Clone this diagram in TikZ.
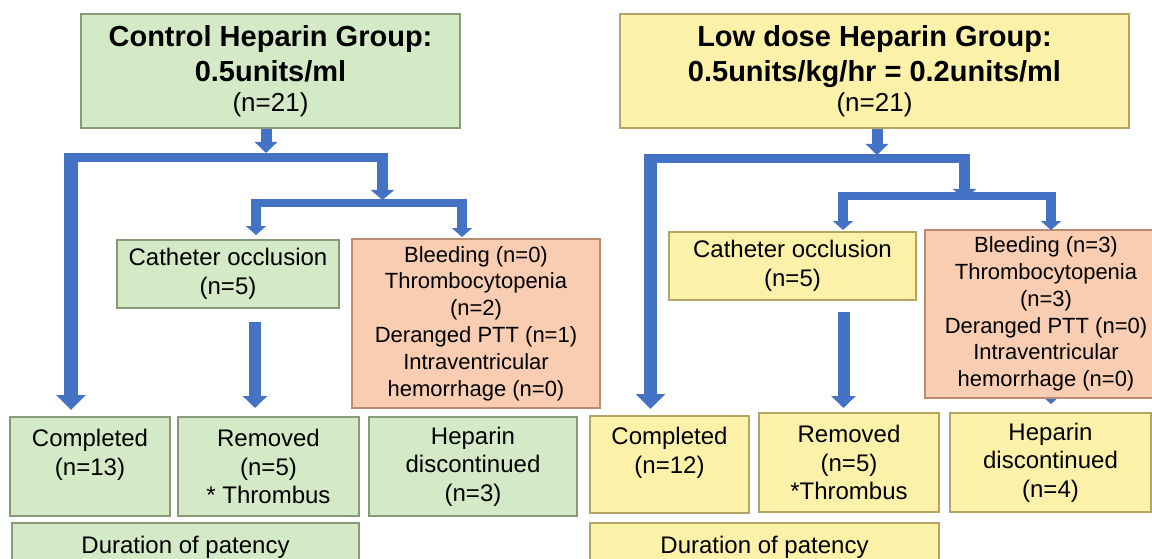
\documentclass[tikz,border=0pt]{standalone}
\usepackage{fontspec}
\setmainfont{Liberation Sans}
\usetikzlibrary{arrows.meta}
\definecolor{gfill}{RGB}{212,234,198}
\definecolor{gdraw}{RGB}{135,155,120}
\definecolor{yfill}{RGB}{252,241,168}
\definecolor{ydraw}{RGB}{180,165,100}
\definecolor{ofill}{RGB}{248,205,178}
\definecolor{odraw}{RGB}{185,140,115}
\definecolor{arrblue}{RGB}{68,114,196}
\tikzset{
  box/.style={draw, line width=1.3pt, inner sep=0pt, align=center,
    font=\fontsize{24}{28.5}\selectfont},
  gbox/.style={box, fill=gfill, draw=gdraw},
  ybox/.style={box, fill=yfill, draw=ydraw},
  obox/.style={box, fill=ofill, draw=odraw, font=\fontsize{22}{26.8}\selectfont},
  topbox/.style={font=\fontsize{29}{35}\selectfont},
  barline/.style={draw=arrblue, line width=#1},
  arrtop/.style={draw=arrblue, line width=11pt, -{Triangle[length=11pt,width=22pt]}},
  arrbig/.style={draw=arrblue, line width=13.5pt, -{Triangle[length=15pt,width=29pt]}},
  arrmid/.style={draw=arrblue, line width=12pt, -{Triangle[length=12pt,width=24pt]}},
  arrbranch/.style={draw=arrblue, line width=11pt, -{Triangle[length=10pt,width=23pt]}},
  arrsmall/.style={draw=arrblue, line width=10pt, -{Triangle[length=9pt,width=20pt]}},
}
\begin{document}
\begin{tikzpicture}[x=1pt,y=-1pt]
\useasboundingbox (0,0) rectangle (1152,559);
\clip (0,0) rectangle (1152,559);

% ---------- coordinates (junctions and tips) ----------
% left group
\coordinate (Lt1) at (266,153);
\coordinate (LbarA) at (65,157.5);
\coordinate (LbarB) at (388,157.5);
\coordinate (LvA) at (71,153);
\coordinate (LvB) at (71,410);
\coordinate (LrA) at (382.5,153);
\coordinate (LrB) at (382.5,200);
\coordinate (Lbar2A) at (251,203.5);
\coordinate (Lbar2B) at (467,203.5);
\coordinate (Ld1A) at (256,200);
\coordinate (Ld1B) at (256,235);
\coordinate (Ld2A) at (462,200);
\coordinate (Ld2B) at (462,237);
\coordinate (LmA) at (255,322);
\coordinate (LmB) at (255,408);
% right group
\coordinate (Rt1) at (877,155);
\coordinate (RbarA) at (644,159);
\coordinate (RbarB) at (970,159);
\coordinate (RvA) at (650.5,155);
\coordinate (RvB) at (650.5,409);
\coordinate (RrA) at (964.5,155);
\coordinate (RrB) at (964.5,199);
\coordinate (Rbar2A) at (838,196.5);
\coordinate (Rbar2B) at (1056,196.5);
\coordinate (Rd1A) at (843,193);
\coordinate (Rd1B) at (843,230);
\coordinate (Rd2A) at (1051,193);
\coordinate (Rd2B) at (1051,230);
\coordinate (RmA) at (843.5,312);
\coordinate (RmB) at (843.5,408);
\coordinate (RhA) at (1051,320);
\coordinate (RhB) at (1051,404);

% hidden arrow behind the right adverse-event box
\draw[arrsmall] (RhA) -- (RhB);

% ---------- left group boxes ----------
\node[gbox, topbox, minimum width=379pt, minimum height=114pt] (topL) at (270.5,71)
  {\bfseries Control Heparin Group:\\\bfseries 0.5units/ml\\[-5pt]\fontsize{26}{30}\selectfont (n=21)};
\node[gbox, minimum width=222pt, minimum height=68pt] (cathL) at (228,274)
  {Catheter occlusion\\(n=5)};
\node[obox, minimum width=248pt, minimum height=169pt] (bleedL) at (476,323.5)
  {Bleeding (n=0)\\Thrombocytopenia\\(n=2)\\Deranged PTT (n=1)\\Intraventricular\\hemorrhage (n=0)};
\node[gbox, minimum width=160pt, minimum height=99pt] (compL) at (90,466.5)
  {Completed\\(n=13)\\\phantom{Thrombus}};
\node[gbox, minimum width=181pt, minimum height=99pt] (remL) at (268.5,466.5)
  {Removed\\(n=5)\\* Thrombus};
\node[gbox, minimum width=208pt, minimum height=99pt] (hepL) at (473,466.5)
  {Heparin\\discontinued\\(n=3)};
\node[gbox, minimum width=347pt, minimum height=49.5pt] (durL) at (185.5,547.75)
  {Duration of patency};

% ---------- right group boxes ----------
\node[ybox, topbox, minimum width=509pt, minimum height=114pt] (topR) at (874.5,71)
  {\bfseries Low dose Heparin Group:\\\bfseries 0.5units/kg/hr = 0.2units/ml\\[-5pt]\fontsize{26}{30}\selectfont (n=21)};
\node[ybox, minimum width=247pt, minimum height=68pt] (cathR) at (792.5,266)
  {Catheter occlusion\\(n=5)};
\node[obox, minimum width=242pt, minimum height=168pt] (bleedR) at (1046,314)
  {Bleeding (n=3)\\Thrombocytopenia\\(n=3)\\Deranged PTT (n=0)\\Intraventricular\\hemorrhage (n=0)};
\node[ybox, minimum width=159pt, minimum height=97pt] (compR) at (669.5,464.5)
  {Completed\\(n=12)\\\phantom{Thrombus}};
\node[ybox, minimum width=180pt, minimum height=99pt] (remR) at (849,462.5)
  {Removed\\(n=5)\\*Thrombus};
\node[ybox, minimum width=201pt, minimum height=99pt] (hepR) at (1050.5,462.5)
  {Heparin\\discontinued\\(n=4)};
\node[ybox, minimum width=349pt, minimum height=49.5pt] (durR) at (764.5,547.75)
  {Duration of patency};

% ---------- left connectors ----------
\draw[arrtop] (topL.south -| Lt1) -- (Lt1);
\draw[barline=9pt] (LbarA) -- (LbarB);
\draw[arrbig] (LvA) -- (LvB);
\draw[arrbranch] (LrA) -- (LrB);
\draw[barline=8pt] (Lbar2A) -- (Lbar2B);
\draw[arrsmall] (Ld1A) -- (Ld1B);
\draw[arrsmall] (Ld2A) -- (Ld2B);
\draw[arrmid] (LmA) -- (LmB);

% ---------- right connectors ----------
\draw[arrtop] (topR.south -| Rt1) -- (Rt1);
\draw[barline=9pt] (RbarA) -- (RbarB);
\draw[arrbig] (RvA) -- (RvB);
\draw[arrbranch] (RrA) -- (RrB);
\draw[barline=8pt] (Rbar2A) -- (Rbar2B);
\draw[arrsmall] (Rd1A) -- (Rd1B);
\draw[arrsmall] (Rd2A) -- (Rd2B);
\draw[arrmid] (RmA) -- (RmB);
\end{tikzpicture}
\end{document}
